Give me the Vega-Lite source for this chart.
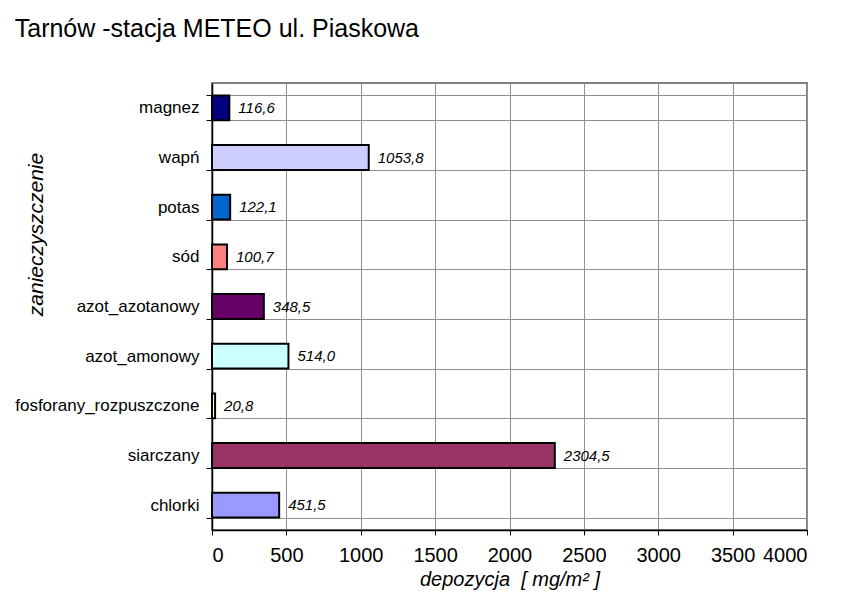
{
  "$schema": "https://vega.github.io/schema/vega-lite/v6.json",
  "width": 595,
  "height": 447,
  "padding": {"left": 14, "top": 17, "right": 10, "bottom": 5},
  "background": "white",
  "title": {
    "text": "Tarnów -stacja METEO ul. Piaskowa",
    "anchor": "start",
    "frame": "bounds",
    "fontSize": 25,
    "fontWeight": "normal",
    "font": "Liberation Sans",
    "color": "black",
    "offset": 32
  },
  "config": {
    "font": "Liberation Sans",
    "view": {"stroke": "#808080", "strokeWidth": 2},
    "locale": {
      "number": {"decimal": ",", "thousands": "", "grouping": [3], "currency": ["", ""]}
    }
  },
  "data": {
    "values": [
      {"zanieczyszczenie": "magnez", "depozycja": 116.6},
      {"zanieczyszczenie": "wapń", "depozycja": 1053.8},
      {"zanieczyszczenie": "potas", "depozycja": 122.1},
      {"zanieczyszczenie": "sód", "depozycja": 100.7},
      {"zanieczyszczenie": "azot_azotanowy", "depozycja": 348.5},
      {"zanieczyszczenie": "azot_amonowy", "depozycja": 514.0},
      {"zanieczyszczenie": "fosforany_rozpuszczone", "depozycja": 20.8},
      {"zanieczyszczenie": "siarczany", "depozycja": 2304.5},
      {"zanieczyszczenie": "chlorki", "depozycja": 451.5}
    ]
  },
  "encoding": {
    "y": {
      "field": "zanieczyszczenie",
      "type": "nominal",
      "sort": ["magnez", "wapń", "potas", "sód", "azot_azotanowy", "azot_amonowy", "fosforany_rozpuszczone", "siarczany", "chlorki"],
      "scale": {"paddingInner": 0.5, "paddingOuter": 0.25},
      "axis": {
        "title": "zanieczyszczenie",
        "tickBand": "extent",
        "grid": true,
        "gridColor": "#909090",
        "gridWidth": 1,
        "labelFontSize": 17,
        "labelLimit": 400,
        "labelColor": "black",
        "labelPadding": 7,
        "tickSize": 6,
        "tickColor": "black",
        "domainColor": "black",
        "domainWidth": 1.5,
        "titleFontSize": 21,
        "titleFontStyle": "italic",
        "titleFontWeight": "normal",
        "titleColor": "black",
        "titleX": -176,
        "titleY": 151,
        "titleAngle": 270,
        "titleAlign": "center",
        "titleBaseline": "middle"
      }
    }
  },
  "layer": [
    {
      "mark": {"type": "bar", "stroke": "black", "strokeWidth": 2},
      "encoding": {
        "x": {
          "field": "depozycja",
          "type": "quantitative",
          "scale": {"domain": [0, 4000], "nice": false},
          "axis": {
            "title": "depozycja \u00a0[ mg/m² ]",
            "values": [0, 500, 1000, 1500, 2000, 2500, 3000, 3500, 4000],
            "format": "d",
            "grid": true,
            "gridColor": "#909090",
            "domainColor": "black",
            "domainWidth": 1.5,
            "tickColor": "black",
            "tickSize": 5,
            "labelFontSize": 20,
            "labelColor": "black",
            "labelPadding": 10,
            "titleFontSize": 20,
            "titleFontStyle": "italic",
            "titleFontWeight": "normal",
            "titleColor": "black",
            "titlePadding": 4
          }
        },
        "color": {
          "field": "zanieczyszczenie",
          "type": "nominal",
          "scale": {
            "domain": ["magnez", "wapń", "potas", "sód", "azot_azotanowy", "azot_amonowy", "fosforany_rozpuszczone", "siarczany", "chlorki"],
            "range": ["#000080", "#CCCCFF", "#0066CC", "#FF8080", "#660066", "#CCFFFF", "#FFFFCC", "#993366", "#9999FF"]
          },
          "legend": null
        }
      }
    },
    {
      "mark": {"type": "text", "align": "left", "baseline": "middle", "dx": 9, "fontStyle": "italic", "fontSize": 15, "color": "black"},
      "encoding": {
        "x": {"field": "depozycja", "type": "quantitative"},
        "text": {"field": "depozycja", "type": "quantitative", "format": ".1f"}
      }
    }
  ]
}
